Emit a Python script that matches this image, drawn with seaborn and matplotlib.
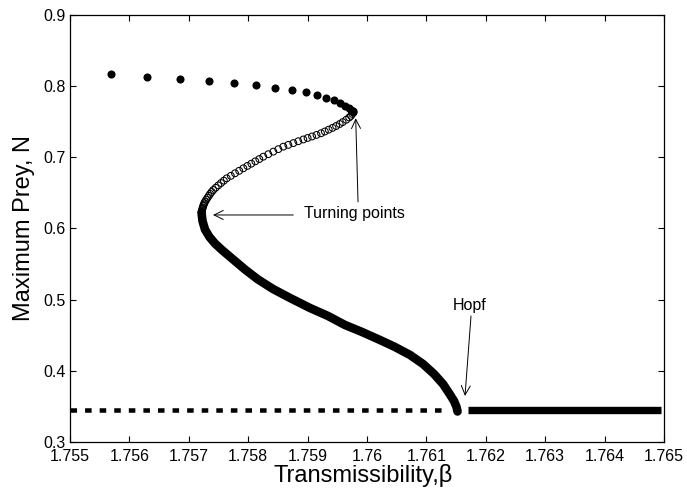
import matplotlib
matplotlib.use("Agg")
import matplotlib.pyplot as plt
import seaborn as sns
import pandas as pd

# Stable periodic orbits, upper branch (filled dots)
upper_beta = [1.755685, 1.756301, 1.756852, 1.757335, 1.757761, 1.758136, 1.758456,
              1.758737, 1.758968, 1.759158, 1.759318, 1.759444, 1.759545, 1.759630,
              1.759689, 1.759731, 1.759756, 1.759764]
upper_prey = [0.8167, 0.8133, 0.8101, 0.8073, 0.8045, 0.8012, 0.7979,
              0.7946, 0.7915, 0.7880, 0.7837, 0.7799, 0.7763, 0.7721,
              0.7693, 0.7668, 0.7651, 0.7630]

# Unstable periodic orbits between the two turning points (open circles)
unstable_beta = [1.759760, 1.759752, 1.759730, 1.759700, 1.759650, 1.759590, 1.759540,
                 1.759480, 1.759420, 1.759355, 1.759290, 1.759226,
                 1.759150, 1.759075, 1.759000, 1.758928,
                 1.758843, 1.758760, 1.758675, 1.758591,
                 1.758507, 1.758423, 1.758338, 1.758254,
                 1.758187, 1.758120, 1.758053, 1.757986, 1.757918,
                 1.757848, 1.757778, 1.757708, 1.757638,
                 1.757590, 1.757543, 1.757497, 1.757453, 1.757412,
                 1.757385, 1.757360, 1.757337, 1.757315, 1.757294, 1.757273,
                 1.757262, 1.757252, 1.757243, 1.757235, 1.757228, 1.757222, 1.757217]
unstable_prey = [0.7637, 0.7610, 0.7583, 0.7560, 0.7528, 0.7495, 0.7468,
                 0.7440, 0.7414, 0.7389, 0.7363, 0.7338,
                 0.7315, 0.7293, 0.7272, 0.7251,
                 0.7226, 0.7200, 0.7175, 0.7150,
                 0.7115, 0.7080, 0.7044, 0.7009,
                 0.6976, 0.6944, 0.6911, 0.6879, 0.6846,
                 0.6811, 0.6776, 0.6740, 0.6705,
                 0.6672, 0.6639, 0.6606, 0.6573, 0.6541,
                 0.6514, 0.6487, 0.6459, 0.6432, 0.6404, 0.6377,
                 0.6357, 0.6337, 0.6317, 0.6296, 0.6276, 0.6256, 0.6236]

# Stable periodic orbits, lower branch down to the Hopf point
lower_beta = [1.757214, 1.757231, 1.757273, 1.757348, 1.757441, 1.757559, 1.757727,
              1.757946, 1.758165, 1.758418, 1.758704, 1.759040, 1.759343, 1.759630,
              1.759916, 1.760219, 1.760471, 1.760724, 1.760943, 1.761128, 1.761279,
              1.761380, 1.761465, 1.761507, 1.761524]
lower_prey = [0.6225, 0.6105, 0.5986, 0.5881, 0.5789, 0.5698, 0.5579,
              0.5424, 0.5284, 0.5150, 0.5024, 0.4883, 0.4771, 0.4644,
              0.4546, 0.4433, 0.4335, 0.4223, 0.4096, 0.3956, 0.3815,
              0.3689, 0.3576, 0.3492, 0.3429]

# Equilibrium branch: unstable before the Hopf point, stable after it
eq_unstable_beta = [1.755000, 1.761279]
eq_unstable_prey = [0.345, 0.345]
eq_stable_beta = [1.761695, 1.764949]
eq_stable_prey = [0.345, 0.345]

x_ticks = [1.755, 1.756, 1.757, 1.758, 1.759, 1.760, 1.761, 1.762, 1.763, 1.764, 1.765]
x_tick_labels = ["1.755", "1.756", "1.757", "1.758", "1.759", "1.76",
                 "1.761", "1.762", "1.763", "1.764", "1.765"]
y_ticks = [0.3, 0.4, 0.5, 0.6, 0.7, 0.8, 0.9]
y_tick_labels = ["0.3", "0.4", "0.5", "0.6", "0.7", "0.8", "0.9"]

sns.set_theme(style="ticks")
plt.rcParams["font.family"] = ["Liberation Sans", "DejaVu Sans"]
plt.rcParams.update({
    "text.color": "black",
    "axes.labelcolor": "black",
    "xtick.color": "black",
    "ytick.color": "black",
    "axes.edgecolor": "black",
    "axes.linewidth": 0.9,
    "xtick.direction": "in",
    "ytick.direction": "in",
    "xtick.top": True,
    "ytick.right": True,
    "xtick.major.size": 4.2,
    "ytick.major.size": 4.2,
    "xtick.major.width": 0.8,
    "ytick.major.width": 0.8,
})

fig = plt.figure(figsize=(6.87, 4.94), dpi=100)
ax = fig.add_axes([70 / 687, 1 - 442 / 494, 594 / 687, 427 / 494])

upper = pd.DataFrame({"beta": upper_beta, "prey": upper_prey})
unstable = pd.DataFrame({"beta": unstable_beta, "prey": unstable_prey})
lower = pd.DataFrame({"beta": lower_beta, "prey": lower_prey})
eq_u = pd.DataFrame({"beta": eq_unstable_beta, "prey": eq_unstable_prey})
eq_s = pd.DataFrame({"beta": eq_stable_beta, "prey": eq_stable_prey})

# equilibria
sns.lineplot(data=eq_u, x="beta", y="prey", ax=ax, color="black", linewidth=3.25,
             linestyle=(0, (1.45, 1.78)), dash_capstyle="butt", sort=False,
             estimator=None)
sns.lineplot(data=eq_s, x="beta", y="prey", ax=ax, color="black", linewidth=5.3,
             solid_capstyle="butt", sort=False, estimator=None)

# periodic orbit branches
sns.lineplot(data=lower, x="beta", y="prey", ax=ax, color="black", linewidth=6.2,
             solid_capstyle="round", solid_joinstyle="round", sort=False,
             estimator=None)
sns.scatterplot(data=upper, x="beta", y="prey", ax=ax, color="black", s=34,
                linewidth=0, zorder=3)
sns.scatterplot(data=unstable, x="beta", y="prey", ax=ax, marker="o", s=24,
                facecolors="none", edgecolor="black", linewidth=0.75, zorder=3)

ax.set_xlim(1.755, 1.765)
ax.set_ylim(0.3, 0.9)
ax.set_xticks(x_ticks)
ax.set_xticklabels(x_tick_labels)
ax.set_yticks(y_ticks)
ax.set_yticklabels(y_tick_labels)
ax.tick_params(labelsize=11.5)
ax.tick_params(axis="x", pad=5)
ax.tick_params(axis="y", pad=3)
for side in ["top", "right", "left", "bottom"]:
    ax.spines[side].set_visible(True)

ax.set_xlabel("Transmissibility,\u03b2", fontsize=17)
ax.set_ylabel("Maximum Prey, N", fontsize=17)
ax.xaxis.set_label_coords(0.4933, -0.052)
ax.yaxis.set_label_coords(-0.059, 0.5)

arrow = dict(arrowstyle="->,head_length=0.55,head_width=0.27", color="black",
             linewidth=0.7, shrinkA=0, shrinkB=0)
ax.annotate("Turning points", xy=(1.757407, 0.6190), xytext=(1.758939, 0.6210),
            fontsize=11.5, ha="left", va="center", annotation_clip=False)
ax.annotate("", xy=(1.757407, 0.6190), xytext=(1.758759, 0.6190), arrowprops=arrow)
ax.annotate("", xy=(1.759810, 0.7549), xytext=(1.759849, 0.6373), arrowprops=arrow)
ax.text(1.761734, 0.4925, "Hopf", fontsize=11.5, ha="center", va="center")
ax.annotate("", xy=(1.761650, 0.3647), xytext=(1.761751, 0.4771), arrowprops=arrow)

fig.savefig("out.png", dpi=100)
